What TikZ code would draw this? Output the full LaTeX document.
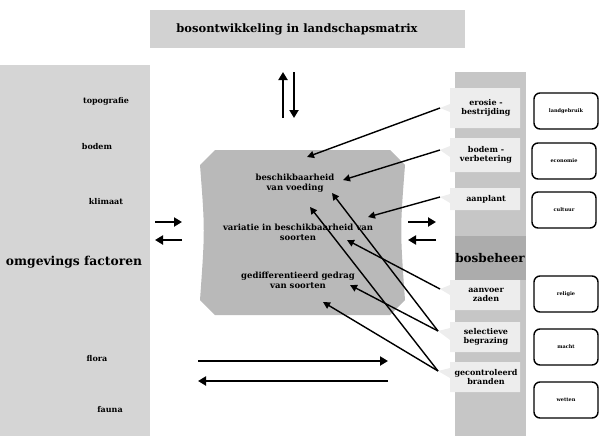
\documentclass[tikz,border=0pt]{standalone}
\usepackage{fontspec}
\setmainfont{DejaVu Serif}
\usetikzlibrary{arrows.meta}
\begin{document}
\begin{tikzpicture}[x=1pt,y=-1pt,
  lbl/.style={font=\bfseries\fontsize{8}{9}\selectfont, align=center, inner sep=1pt},
  clbl/.style={font=\bfseries\fontsize{8.5}{10}\selectfont, align=center, inner sep=1pt},
  big/.style={font=\bfseries\fontsize{12}{13}\selectfont, inner sep=1pt},
  boxlbl/.style={draw=black, line width=1.4pt, rounded corners=6pt, fill=white, minimum width=64pt, minimum height=36pt, font=\bfseries\fontsize{5}{6}\selectfont},
  bubble/.style={fill=gray!14},
  conn/.style={line width=1.4pt, -{Triangle[length=7pt,width=7pt]}},
  fat/.style={line width=2.2pt, -{Triangle[length=8pt,width=9pt]}}]
\useasboundingbox (0,0) rectangle (604,436);
% title band
\fill[gray!35] (150,10) rectangle (465,48);
\node[font=\bfseries\fontsize{11.5}{12}\selectfont] (title) at (297,29) {bosontwikkeling in landschapsmatrix};
% left panel
\fill[gray!33] (0,65) rectangle (150,436);
\node[lbl] (topo) at (106,101) {topografie};
\node[lbl] (bodem) at (97,147) {bodem};
\node[lbl] (klim) at (106,202) {klimaat};
\node[big, font=\bfseries\fontsize{12.3}{13}\selectfont] (omg) at (74,262) {omgevings factoren};
\node[lbl] (flora) at (97,359) {flora};
\node[lbl] (fauna) at (110,410) {fauna};
% center shape
\fill[gray!55] (215,150) -- (390,150) -- (405,165) .. controls (400,230) .. (405,300) -- (390,315) -- (215,315) -- (200,300) .. controls (205,230) .. (200,165) -- cycle;
\node[clbl] (c1) at (295,183) {beschikbaarheid\\van voeding};
\node[clbl] (c2) at (298,232) {variatie in beschikbaarheid van\\soorten};
\node[clbl] (c3) at (298,280) {gedifferentieerd gedrag\\van soorten};
\coordinate (c1a) at (307,157);
\coordinate (c1b) at (343,180);
\coordinate (c1c) at (332,193);
\coordinate (c1d) at (310,207);
\coordinate (c2a) at (368,217);
\coordinate (c2b) at (347,240);
\coordinate (c3a) at (350,285);
\coordinate (c3b) at (323,302);
% right panel
\fill[gray!45] (455,72) rectangle (526,436);
\fill[gray!65] (455,236) rectangle (526,280);
\node[big] (bos) at (490,258) {bosbeheer};
\fill[bubble] (450,88) -- (520,88) -- (520,128) -- (450,128) -- (450,112) -- (440,108) -- (450,104) -- cycle;
\node[lbl] (ero) at (486,108) {erosie -\\bestrijding};
\fill[bubble] (450,138) -- (520,138) -- (520,172) -- (450,172) -- (450,157) -- (440,150) -- (450,146) -- cycle;
\node[lbl] (bv) at (486,155) {bodem -\\verbetering};
\fill[bubble] (450,188) -- (520,188) -- (520,210) -- (450,210) -- (450,203) -- (440,197) -- (450,194) -- cycle;
\node[lbl] (aan) at (486,199) {aanplant};
\fill[bubble] (450,280) -- (520,280) -- (520,310) -- (450,310) -- (450,295) -- (440,289) -- (450,285) -- cycle;
\node[lbl] (zad) at (486,295) {aanvoer\\zaden};
\fill[bubble] (450,322) -- (520,322) -- (520,352) -- (450,352) -- (450,340) -- (438,331) -- (450,328) -- cycle;
\node[lbl] (beg) at (486,337) {selectieve\\begrazing};
\fill[bubble] (450,362) -- (520,362) -- (520,392) -- (450,392) -- (450,378) -- (438,371) -- (450,368) -- cycle;
\node[lbl] (bra) at (486,377) {gecontroleerd\\branden};
\coordinate (pero) at (440,108);
\coordinate (pbv) at (440,150);
\coordinate (paan) at (440,197);
\coordinate (pzad) at (440,289);
\coordinate (pbeg) at (438,331);
\coordinate (pbra) at (438,371);
% boxes
\node[boxlbl] (land) at (566,111) {landgebruik};
\node[boxlbl] (eco) at (564,161) {economie};
\node[boxlbl] (cul) at (564,210) {cultuur};
\node[boxlbl] (rel) at (566,294) {religie};
\node[boxlbl] (mac) at (566,347) {macht};
\node[boxlbl] (wet) at (566,400) {wetten};
% connectors
\draw[conn] (pero) -- (c1a);
\draw[conn] (pbv) -- (c1b);
\draw[conn] (paan) -- (c2a);
\draw[conn] (pzad) -- (c2b);
\draw[conn] (pbeg) -- (c1c);
\draw[conn] (pbeg) -- (c3a);
\draw[conn] (pbra) -- (c1d);
\draw[conn] (pbra) -- (c3b);
% big arrows
\coordinate (u1) at (283,118); \coordinate (u2) at (283,72);
\coordinate (d1) at (294,72); \coordinate (d2) at (294,118);
\draw[fat] (u1) -- (u2);
\draw[fat] (d1) -- (d2);
\coordinate (l1) at (155,222); \coordinate (l2) at (182,222);
\coordinate (l3) at (182,240); \coordinate (l4) at (155,240);
\draw[fat] (l1) -- (l2);
\draw[fat] (l3) -- (l4);
\coordinate (r1) at (408,222); \coordinate (r2) at (436,222);
\coordinate (r3) at (436,240); \coordinate (r4) at (408,240);
\draw[fat] (r1) -- (r2);
\draw[fat] (r3) -- (r4);
\coordinate (b1) at (198,361); \coordinate (b2) at (388,361);
\coordinate (b3) at (388,381); \coordinate (b4) at (198,381);
\draw[fat, line width=2.5pt] (b1) -- (b2);
\draw[fat, line width=2.5pt] (b3) -- (b4);
\end{tikzpicture}
\end{document}
